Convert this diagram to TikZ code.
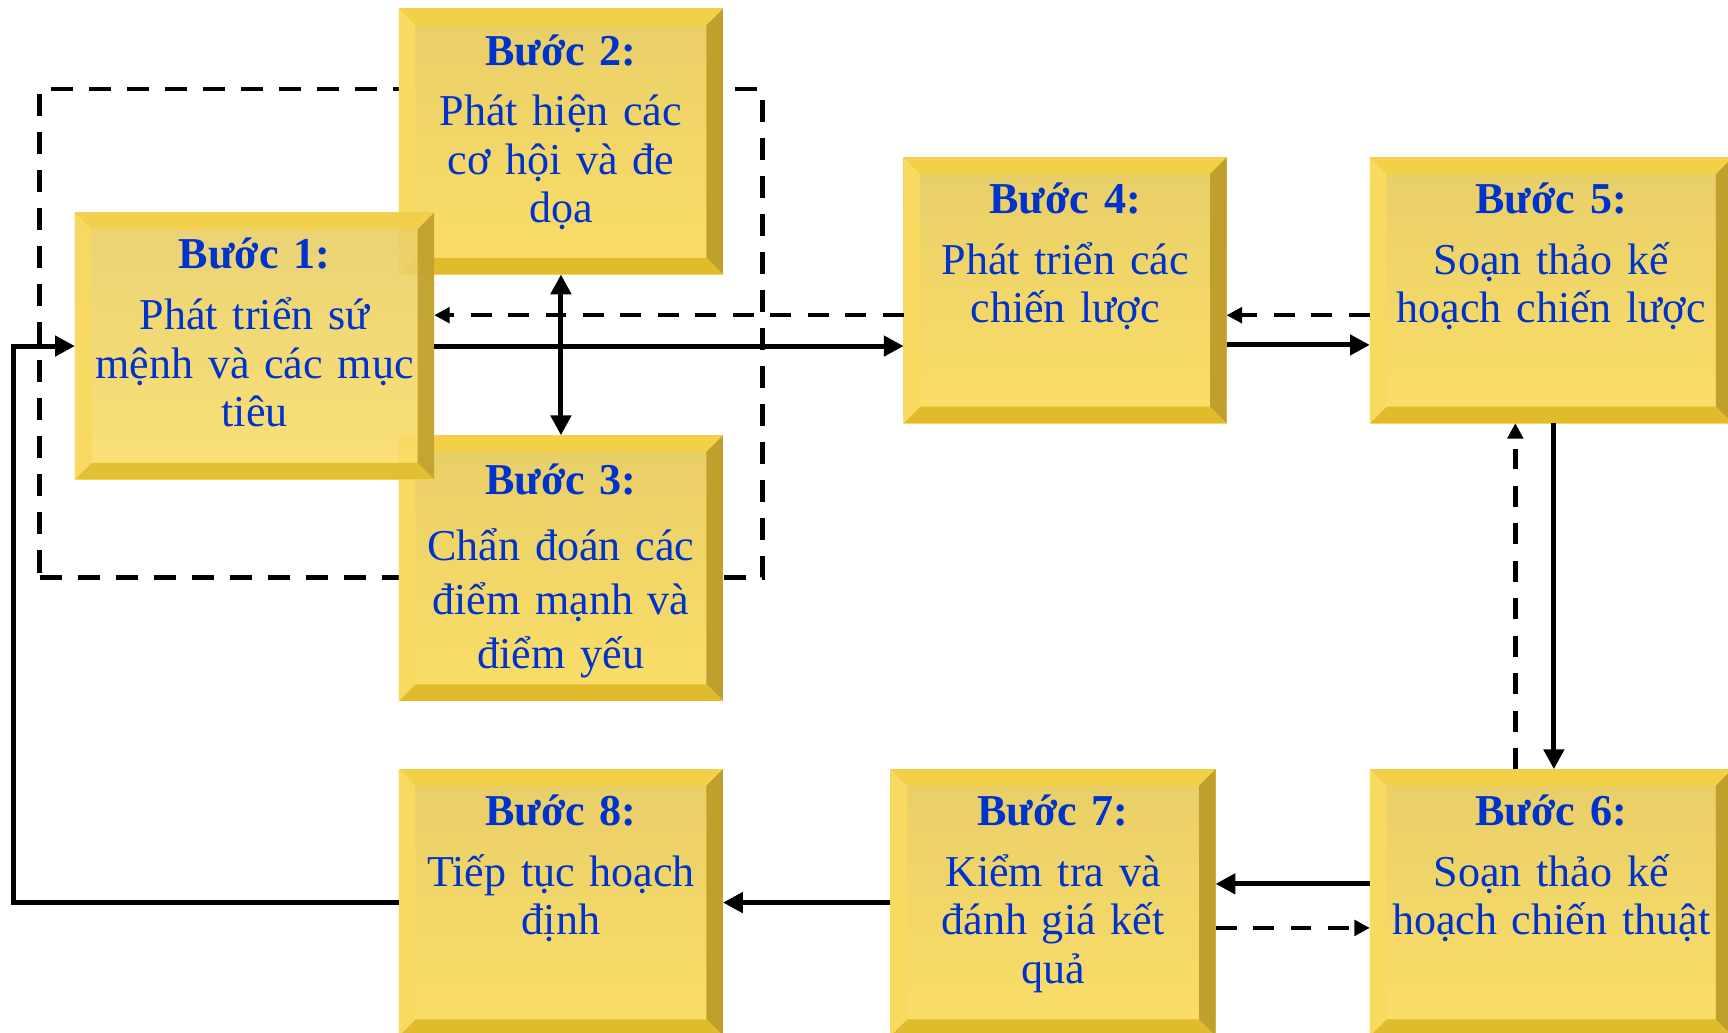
\documentclass[tikz,border=0pt]{standalone}
\usepackage{fontspec}
\setmainfont{Liberation Serif}
\usetikzlibrary{arrows.meta,calc}

% palette for the bevelled step boxes
\definecolor{faceTop}{RGB}{232,206,104}
\definecolor{faceBot}{RGB}{251,222,104}
\definecolor{bevTop}{RGB}{244,208,72}
\definecolor{bevLeft}{RGB}{248,218,96}
\definecolor{bevRight}{RGB}{191,160,44}
\definecolor{bevBottom}{RGB}{224,188,44}
\definecolor{stepBlue}{RGB}{0,51,204}

\tikzset{
  stepbox/.style={rectangle, inner sep=0pt, outer sep=0pt, draw=none,
    top color=faceTop, bottom color=faceBot,
    path picture={
      \coordinate (pa) at (path picture bounding box.north west);
      \coordinate (pb) at (path picture bounding box.north east);
      \coordinate (pc) at (path picture bounding box.south east);
      \coordinate (pd) at (path picture bounding box.south west);
      \fill[bevTop] (pa) -- (pb) -- ([shift={(-15bp,-15bp)}]pb) -- ([shift={(15bp,-15bp)}]pa) -- cycle;
      \fill[bevRight] (pb) -- (pc) -- ([shift={(-15bp,15bp)}]pc) -- ([shift={(-15bp,-15bp)}]pb) -- cycle;
      \fill[bevBottom] (pc) -- (pd) -- ([shift={(15bp,15bp)}]pd) -- ([shift={(-15bp,15bp)}]pc) -- cycle;
      \fill[bevLeft] (pd) -- (pa) -- ([shift={(15bp,-15bp)}]pa) -- ([shift={(15bp,15bp)}]pd) -- cycle;
    }},
  steptext/.style={text=stepBlue, text width=340bp, align=center, inner sep=0pt,
    anchor=base, font=\fontsize{40bp}{44bp}\selectfont},
  flow/.style={line width=4.5bp, -{Triangle[length=18bp,width=18bp]}},
  flowboth/.style={line width=4.5bp, {Triangle[length=18bp,width=18bp]}-{Triangle[length=18bp,width=18bp]}},
  feedback/.style={line width=4bp, dash pattern=on 19bp off 15bp, -{Triangle[length=14bp,width=14bp]}},
  groupframe/.style={draw=black, line width=4bp, dash pattern=on 20bp off 14.5bp, inner sep=0pt}
}

\begin{document}
\begin{tikzpicture}[x=1bp, y=-1bp]
  \useasboundingbox (0,0) rectangle (1568,937);
  \fill[white] (0,0) rectangle (1568,937);

  % dashed frame grouping steps 1-3
  \node[groupframe, minimum width=656bp, minimum height=443bp] (grp) at (364,302.5) {};

  % step boxes
  \node[stepbox, minimum width=294bp, minimum height=241bp] (b2) at (509,128.5) {};
  \node[stepbox, minimum width=294bp, minimum height=241bp] (b3) at (509,515.5) {};
  \node[stepbox, minimum width=293bp, minimum height=241bp] (b4) at (966.5,263.5) {};
  \node[stepbox, minimum width=329bp, minimum height=241bp] (b5) at (1407.5,263.5) {};
  \node[stepbox, minimum width=329bp, minimum height=242bp] (b6) at (1407.5,819) {};
  \node[stepbox, minimum width=295bp, minimum height=242bp] (b7) at (955.5,819) {};
  \node[stepbox, minimum width=294bp, minimum height=242bp] (b8) at (509,819) {};

  % step 1 sits on top of steps 2 and 3, slightly translucent
  \begin{scope}[fill opacity=0.9]
    \node[stepbox, minimum width=326bp, minimum height=242bp] (b1) at (231,314) {};
  \end{scope}

  % connectors
  \coordinate (loop) at (12,0);
  \draw[flowboth] (b2.south) -- (b3.north);
  \draw[flow] (b1.east) -- (b1.east -| b4.west);
  \draw[feedback] ([yshift=28bp]b1.east -| b4.west) -- ([yshift=28bp]b1.east);
  \draw[flow] ([yshift=-49.5bp]b4.east) -- ([yshift=-49.5bp]b4.east -| b5.west);
  \draw[feedback] ([yshift=-22.5bp]b4.east -| b5.west) -- ([yshift=-22.5bp]b4.east);
  \draw[flow] ([xshift=2.5bp]b5.south) -- ([xshift=2.5bp]b5.south |- b6.north);
  \draw[feedback] ([xshift=-32.5bp]b5.south |- b6.north) -- ([xshift=-32.5bp]b5.south);
  \draw[flow] ([yshift=17bp]b6.west) -- ([yshift=17bp]b6.west -| b7.east);
  \draw[feedback] ([yshift=-23bp]b7.east) -- ([yshift=-23bp]b7.east -| b6.west);
  \draw[flow] (b7.west) -- (b7.west -| b8.east);
  \draw[flow] (b8.west) -- (b8.west -| loop) |- (b1.west);

  % labels
  \node[steptext] (t1) at ([yshift=-51bp]b1.north) {\textbf{Bước 1:}\\[11bp]Phát triển sứ\\mệnh và các mục\\tiêu};
  \node[steptext] (t2) at ([yshift=-51bp]b2.north) {\textbf{Bước 2:}\\[11bp]Phát hiện các\\cơ hội và đe\\dọa};
  \node[steptext, font=\fontsize{40bp}{49bp}\selectfont] (t3) at ([yshift=-54bp]b3.north) {\textbf{Bước 3:}\\[11bp]Chẩn đoán các\\điểm mạnh và\\điểm yếu};
  \node[steptext] (t4) at ([yshift=-51bp]b4.north) {\textbf{Bước 4:}\\[11bp]Phát triển các\\chiến lược};
  \node[steptext] (t5) at ([yshift=-51bp]b5.north) {\textbf{Bước 5:}\\[11bp]Soạn thảo kế\\hoạch chiến lược};
  \node[steptext] (t6) at ([yshift=-51bp]b6.north) {\textbf{Bước 6:}\\[11bp]Soạn thảo kế\\hoạch chiến thuật};
  \node[steptext] (t7) at ([yshift=-51bp]b7.north) {\textbf{Bước 7:}\\[11bp]Kiểm tra và\\đánh giá kết\\quả};
  \node[steptext] (t8) at ([yshift=-51bp]b8.north) {\textbf{Bước 8:}\\[11bp]Tiếp tục hoạch\\định};
\end{tikzpicture}
\end{document}
